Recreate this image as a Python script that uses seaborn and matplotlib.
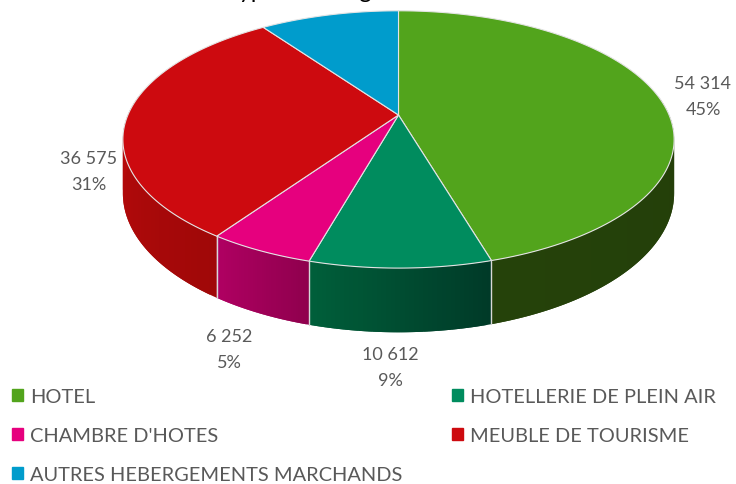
import numpy as np
import seaborn as sns
import matplotlib
matplotlib.use("Agg")
import matplotlib.pyplot as plt
from matplotlib.patches import Patch

categories = ["HOTEL", "HOTELLERIE DE PLEIN AIR", "CHAMBRE D'HOTES",
              "MEUBLE DE TOURISME", "AUTRES HEBERGEMENTS MARCHANDS"]
values = [54314, 10612, 6252, 36575, 11700]
value_labels = ["54 314", "10 612", "6 252", "36 575"]
pct_labels = ["45%", "9%", "5%", "31%"]
top_colors = ["#52a41c", "#008c5e", "#e6007e", "#cd0a0f", "#009ccc"]
wall_left = ["#25420a", "#005f3a", "#b00062", "#bc0a0c", "#009ccc"]
wall_right = ["#233e09", "#003a28", "#90004e", "#a00808", "#009ccc"]

sns.set_theme(style="white")
plt.rcParams["font.family"] = ["Lato", "DejaVu Sans"]

fig = plt.figure(figsize=(7.36, 4.85), dpi=100)
ax = fig.add_axes([0, 0, 1, 1])
ax.set_xlim(0, 736)
ax.set_ylim(485, 0)
ax.axis("off")

# perspective of the tilted disc, fitted on the picture
CX, CY = 398.5, 116
BX, BY, K, DEPTH = 270.6, 124, 0.19, 52


def project(theta, drop=0.0):
    u, v = np.sin(theta), np.cos(theta)
    w = 1 + K * v
    return CX + BX * u / w, CY - BY * v / w + drop / w


fractions = np.array(values) / sum(values)
edges = np.concatenate([[0], np.cumsum(fractions)]) * 2 * np.pi

# walls first, only the front half of the disc shows
for i in range(len(values)):
    a0, a1 = max(edges[i], np.radians(80)), min(edges[i + 1], np.radians(280))
    if a1 <= a0:
        continue
    n = 40
    shades = sns.blend_palette([wall_left[i], wall_right[i]], n)
    # shading runs from left to right on screen
    if project(a0)[0] > project(a1)[0]:
        shades = shades[::-1]
    ts = np.linspace(a0, a1, n + 1)
    for j in range(n):
        # each strip runs on under the next one so no seams show
        t = np.linspace(ts[j], ts[min(j + 2, n)], 5)
        xt, yt = project(t)
        xb, yb = project(t, DEPTH)
        ax.fill(np.r_[xt, xb[::-1]], np.r_[yt, yb[::-1]], color=shades[j], lw=0, zorder=1)

# light lines between the walls
for e in edges[1:]:
    if np.radians(80) < e < np.radians(280):
        x0, y0 = project(e)
        x1, y1 = project(e, DEPTH)
        ax.plot([x0, x1], [y0, y1], color="#d8d8d8", lw=1.0, zorder=2)

# top face
for i in range(len(values)):
    t = np.linspace(edges[i], edges[i + 1], 120)
    x, y = project(t)
    ax.fill(np.r_[CX, x], np.r_[CY, y], facecolor=top_colors[i], edgecolor="#e4e4e4", lw=0.8, zorder=3)

# labels
label_x = [703, 390, 229, 89]
label_y = [84, 355, 337, 159]
for i in range(4):
    ax.text(label_x[i], label_y[i], value_labels[i], ha="center", va="center", fontsize=13, color="#595959")
    ax.text(label_x[i], label_y[i] + 26, pct_labels[i], ha="center", va="center", fontsize=13, color="#595959")

# title is cut off by the top of the picture
ax.text(331, -2, "Type d'hébergement", ha="center", va="baseline", fontsize=16.8, color="black")

order = [0, 2, 4, 1, 3]
handles = [Patch(color=top_colors[i], label=categories[i]) for i in order]
ax.legend(handles=handles, ncol=2, loc="upper left", bbox_to_anchor=(0.0165, 0.197), frameon=False,
          fontsize=14.4, labelcolor="#595959", handlelength=0.55, handleheight=0.55, handletextpad=0.35,
          columnspacing=2.45, labelspacing=1.1, borderpad=0, borderaxespad=0)

fig.savefig("out.png", dpi=100)
